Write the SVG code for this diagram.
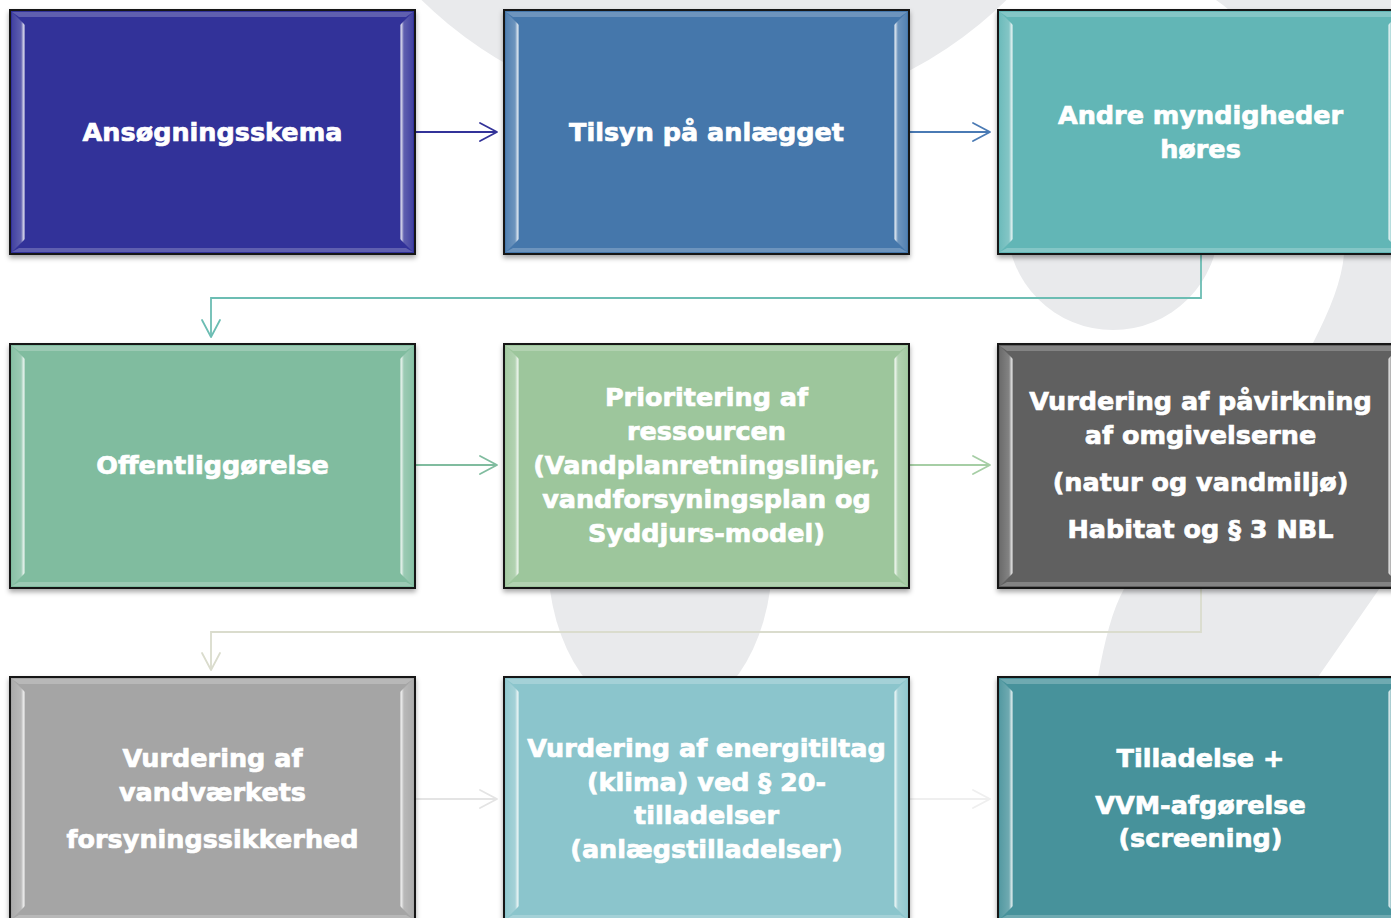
<svg xmlns="http://www.w3.org/2000/svg" xmlns:xlink="http://www.w3.org/1999/xlink" width="1391" height="918" viewBox="0 0 1391 918">
<style>
.bg{fill:#e9eaec}
.box{stroke:#151515;stroke-width:2}
.lbl{font-family:"DejaVu Sans",Verdana,"Liberation Sans",sans-serif;font-weight:bold;font-size:25.5px;fill:#ffffff;stroke:#ffffff;stroke-width:0.7;text-anchor:middle}
.con{fill:none;stroke-width:1.8}
.mk{fill:none;stroke-width:1.8;stroke-linecap:round;stroke-linejoin:round}
</style>
<defs>
<filter id="sh" x="-5%" y="-5%" width="110%" height="115%">
<feDropShadow dx="0" dy="3" stdDeviation="2.5" flood-color="#000" flood-opacity="0.35"/>
</filter>
<linearGradient id="gL" x1="0" y1="0" x2="1" y2="0">
<stop offset="0" stop-color="#fff" stop-opacity="0.08"/>
<stop offset="0.7" stop-color="#fff" stop-opacity="0.22"/>
<stop offset="0.88" stop-color="#fff" stop-opacity="0.75"/>
<stop offset="1" stop-color="#fff" stop-opacity="0.35"/>
</linearGradient>
<linearGradient id="gR" x1="1" y1="0" x2="0" y2="0">
<stop offset="0" stop-color="#fff" stop-opacity="0.08"/>
<stop offset="0.7" stop-color="#fff" stop-opacity="0.22"/>
<stop offset="0.88" stop-color="#fff" stop-opacity="0.75"/>
<stop offset="1" stop-color="#fff" stop-opacity="0.35"/>
</linearGradient>
<g id="bevel">
<polygon points="2,2 403,2 396,7 9,7" fill="#fff" fill-opacity="0.22"/>
<polygon points="2,242 403,242 396,238 9,238" fill="#fff" fill-opacity="0.22"/>
<polygon points="2,2 15,15 15,229 2,242" fill="url(#gL)"/>
<polygon points="403,2 390,15 390,229 403,242" fill="url(#gR)"/>
</g>
<marker id="m1" markerUnits="userSpaceOnUse" markerWidth="20" markerHeight="20" refX="17" refY="9" orient="auto" overflow="visible"><path class="mk" d="M0,0 L17,9 L0,18" stroke="#333399"/></marker>
<marker id="m2" markerUnits="userSpaceOnUse" markerWidth="20" markerHeight="20" refX="17" refY="9" orient="auto" overflow="visible"><path class="mk" d="M0,0 L17,9 L0,18" stroke="#4a7ab4"/></marker>
<marker id="m3" markerUnits="userSpaceOnUse" markerWidth="20" markerHeight="20" refX="17" refY="9" orient="auto" overflow="visible"><path class="mk" d="M0,0 L17,9 L0,18" stroke="#6cbdb3"/></marker>
<marker id="m4" markerUnits="userSpaceOnUse" markerWidth="20" markerHeight="20" refX="17" refY="9" orient="auto" overflow="visible"><path class="mk" d="M0,0 L17,9 L0,18" stroke="#80bc9f"/></marker>
<marker id="m5" markerUnits="userSpaceOnUse" markerWidth="20" markerHeight="20" refX="17" refY="9" orient="auto" overflow="visible"><path class="mk" d="M0,0 L17,9 L0,18" stroke="#a6cea5"/></marker>
<marker id="m6" markerUnits="userSpaceOnUse" markerWidth="20" markerHeight="20" refX="17" refY="9" orient="auto" overflow="visible"><path class="mk" d="M0,0 L17,9 L0,18" stroke="#dadccd"/></marker>
<marker id="m7" markerUnits="userSpaceOnUse" markerWidth="20" markerHeight="20" refX="17" refY="9" orient="auto" overflow="visible"><path class="mk" d="M0,0 L17,9 L0,18" stroke="#e4e4e4"/></marker>
<marker id="m8" markerUnits="userSpaceOnUse" markerWidth="20" markerHeight="20" refX="17" refY="9" orient="auto" overflow="visible"><path class="mk" d="M0,0 L17,9 L0,18" stroke="#efefef"/></marker>
</defs>
<rect width="1391" height="918" fill="#ffffff"/>
<g id="background">
<circle class="bg" cx="714" cy="-300" r="419"/>
<circle class="bg" cx="1113" cy="224" r="106"/>
<ellipse class="bg" cx="660" cy="560" rx="112" ry="160"/>
<path class="bg" d="M1216,0 L1400,0 L1400,565 L1391,572 L1318,677 L1240,918 L1040,918 L1098,677 C1105,640 1112,610 1125,587 C1180,480 1290,390 1313,343 C1330,310 1342,280 1344,254 C1350,170 1295,55 1216,0 Z"/>
</g>
<g id="connectors">
<path class="con" d="M415,132 H497" stroke="#333399" marker-end="url(#m1)"/>
<path class="con" d="M908,132 H990" stroke="#4a7ab4" marker-end="url(#m2)"/>
<path class="con" d="M1201,254 V298 H211 V337" stroke="#6cbdb3" stroke-width="2" marker-end="url(#m3)"/>
<path class="con" d="M415,465 H497" stroke="#80bc9f" marker-end="url(#m4)"/>
<path class="con" d="M909,465 H990" stroke="#a6cea5" marker-end="url(#m5)"/>
<path class="con" d="M1201,588 V632 H211 V670" stroke="#dadccd" stroke-width="2" marker-end="url(#m6)"/>
<path class="con" d="M415,799 H497" stroke="#e4e4e4" marker-end="url(#m7)"/>
<path class="con" d="M909,799 H990" stroke="#efefef" marker-end="url(#m8)"/>
</g>
<g id="n1" transform="translate(10,10)">
<rect class="box" width="405" height="244" fill="#333399" filter="url(#sh)"/>
<use href="#bevel"/>
<text class="lbl" x="202.5" y="131">Ansøgningsskema</text>
</g>
<g id="n2" transform="translate(504,10)">
<rect class="box" width="405" height="244" fill="#4477ab" filter="url(#sh)"/>
<use href="#bevel"/>
<text class="lbl" x="202.5" y="131">Tilsyn på anlægget</text>
</g>
<g id="n3" transform="translate(998,10)">
<rect class="box" width="405" height="244" fill="#62b6b6" filter="url(#sh)"/>
<use href="#bevel"/>
<text class="lbl" x="202.5" y="114">Andre myndigheder</text>
<text class="lbl" x="202.5" y="148">høres</text>
</g>
<g id="n4" transform="translate(10,344)">
<rect class="box" width="405" height="244" fill="#80bc9f" filter="url(#sh)"/>
<use href="#bevel"/>
<text class="lbl" x="202.5" y="130">Offentliggørelse</text>
</g>
<g id="n5" transform="translate(504,344)">
<rect class="box" width="405" height="244" fill="#9dc69c" filter="url(#sh)"/>
<use href="#bevel"/>
<text class="lbl" x="202.5" y="62">Prioritering af</text>
<text class="lbl" x="202.5" y="96">ressourcen</text>
<text class="lbl" x="202.5" y="130">(Vandplanretningslinjer,</text>
<text class="lbl" x="202.5" y="164">vandforsyningsplan og</text>
<text class="lbl" x="202.5" y="198">Syddjurs-model)</text>
</g>
<g id="n6" transform="translate(998,344)">
<rect class="box" width="405" height="244" fill="#606060" filter="url(#sh)"/>
<use href="#bevel"/>
<text class="lbl" x="202.5" y="66">Vurdering af påvirkning</text>
<text class="lbl" x="202.5" y="100">af omgivelserne</text>
<text class="lbl" x="202.5" y="147">(natur og vandmiljø)</text>
<text class="lbl" x="202.5" y="194">Habitat og § 3 NBL</text>
</g>
<g id="n7" transform="translate(10,677)">
<rect class="box" width="405" height="244" fill="#a5a5a5" filter="url(#sh)"/>
<use href="#bevel"/>
<text class="lbl" x="202.5" y="90">Vurdering af</text>
<text class="lbl" x="202.5" y="124">vandværkets</text>
<text class="lbl" x="202.5" y="171">forsyningssikkerhed</text>
</g>
<g id="n8" transform="translate(504,677)">
<rect class="box" width="405" height="244" fill="#8bc5cc" filter="url(#sh)"/>
<use href="#bevel"/>
<text class="lbl" x="202.5" y="80">Vurdering af energitiltag</text>
<text class="lbl" x="202.5" y="114">(klima) ved § 20-</text>
<text class="lbl" x="202.5" y="147">tilladelser</text>
<text class="lbl" x="202.5" y="181">(anlægstilladelser)</text>
</g>
<g id="n9" transform="translate(998,677)">
<rect class="box" width="405" height="244" fill="#46929b" filter="url(#sh)"/>
<use href="#bevel"/>
<text class="lbl" x="202.5" y="90">Tilladelse +</text>
<text class="lbl" x="202.5" y="137">VVM-afgørelse</text>
<text class="lbl" x="202.5" y="170">(screening)</text>
</g>
</svg>
